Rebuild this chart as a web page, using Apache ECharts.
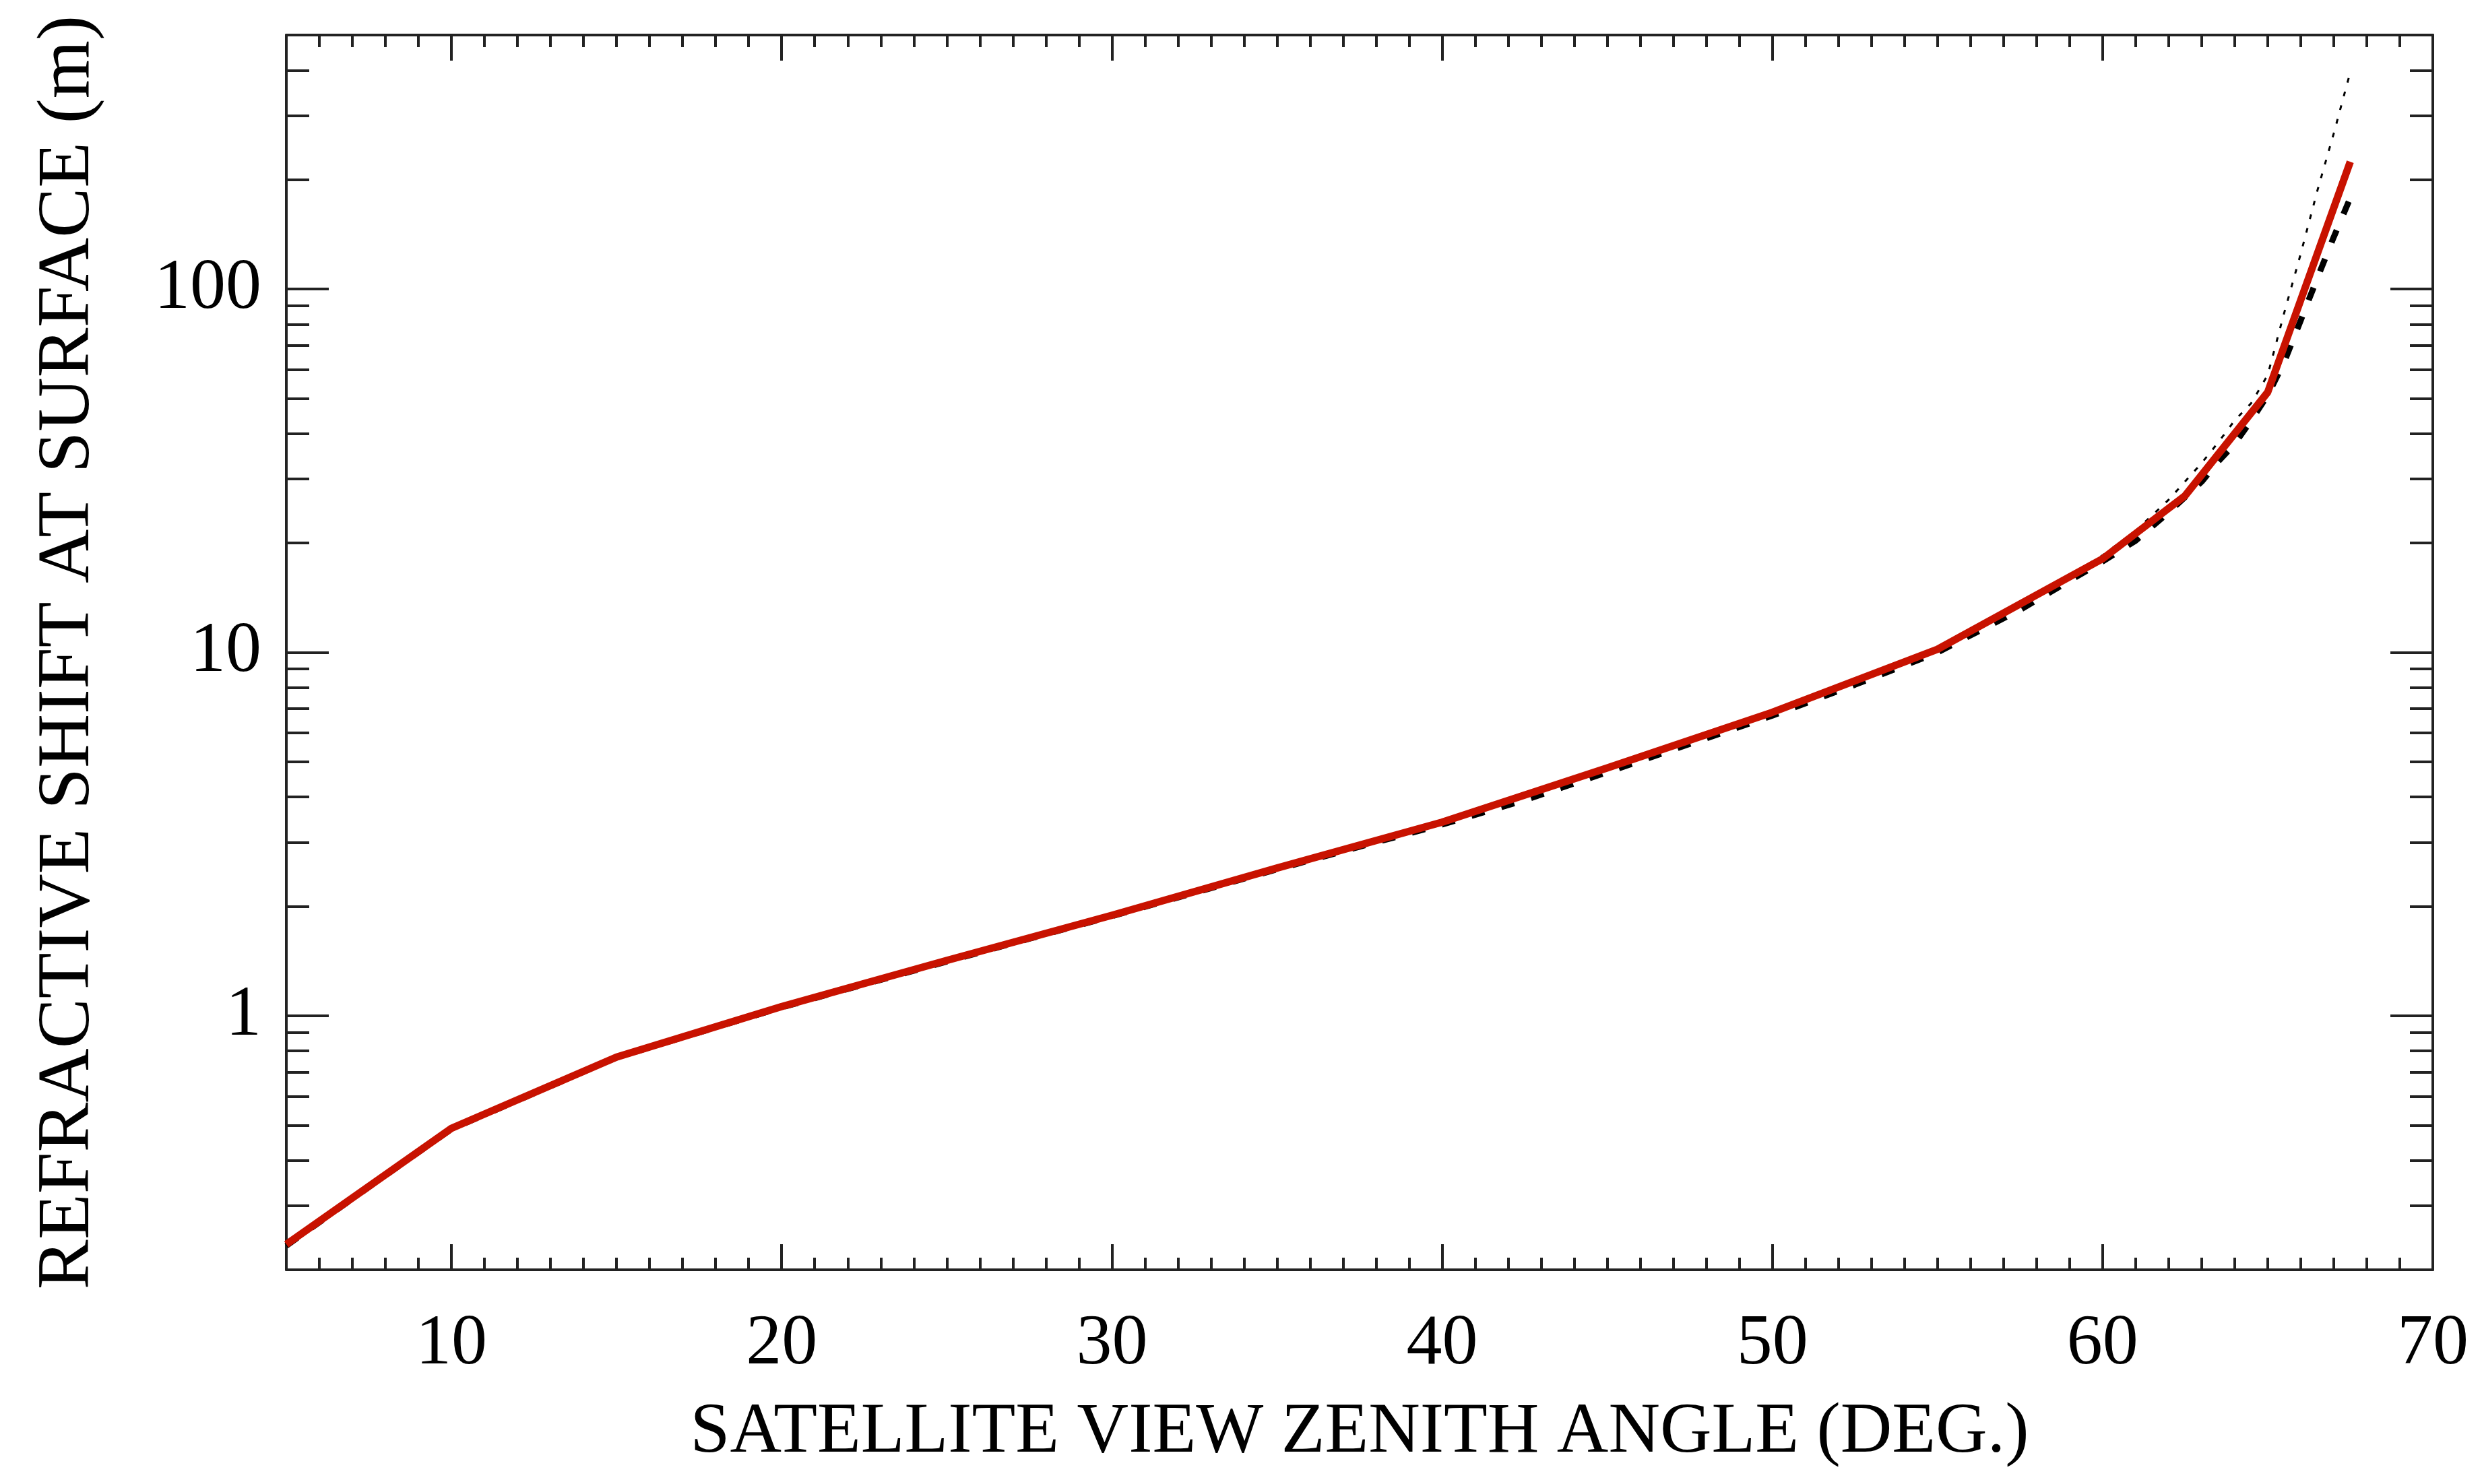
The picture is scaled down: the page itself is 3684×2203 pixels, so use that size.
<!DOCTYPE html>
<html><head><meta charset="utf-8">
<script src="https://cdn.jsdelivr.net/npm/echarts@6/dist/echarts.min.js"></script>
<style>html,body{margin:0;padding:0;background:#fff}#c{width:3684px;height:2203px}</style>
</head><body><div id="c"></div>
<script>
// ---- data ----
const redAngle = [5, 10, 15, 20, 25, 30, 35, 40, 45, 50, 55, 60, 62.5, 65, 67.5];
const redShift = [0.235, 0.49, 0.77, 1.06, 1.42, 1.89, 2.55, 3.41, 4.81, 6.84, 10.2, 18.1, 27, 52, 224];

const blackAngle = [5, 7.5, 10, 12.5, 15, 17.5, 20, 22.5, 25, 27.5, 30, 32.5, 35, 37.5, 40, 42.5, 45, 47.5, 50, 52.5, 55, 57.5, 60, 61, 62, 63, 63.5, 64, 64.5, 65, 65.5, 66, 66.5, 67, 67.5];
const dottedShift = [0.235, 0.34, 0.49, 0.617, 0.772, 0.91, 1.07, 1.24, 1.44, 1.66, 1.91, 2.21, 2.57, 2.97, 3.43, 4.05, 4.82, 5.75, 6.88, 8.35, 10.3, 13.4, 18.5, 21.6, 26.3, 33.2, 37.8, 43.5, 48.5, 58, 86, 125, 186, 268, 395];
const dashedShift = [0.233, 0.338, 0.488, 0.612, 0.768, 0.9, 1.055, 1.22, 1.41, 1.63, 1.88, 2.18, 2.53, 2.92, 3.36, 3.92, 4.68, 5.6, 6.7, 8.15, 10.0, 13.1, 17.8, 20.3, 24.3, 29.5, 33.5, 37.5, 43.5, 51, 63, 82, 107, 139, 178];

const xTickLabels = [10, 20, 30, 40, 50, 60, 70];
const yTickLabels = [1, 10, 100];
const xTitle = 'SATELLITE VIEW ZENITH ANGLE (DEG.)';
const yTitle = 'REFRACTIVE SHIFT AT SURFACE (m)';

// ---- axis settings ----
const X_MIN = 5, X_MAX = 70, Y_MIN = 0.2, Y_MAX = 500;
const xMinor = [];
for (let v = X_MIN + 1; v < X_MAX; v++) if (xTickLabels.indexOf(v) < 0) xMinor.push(v);
const yMinor = [];
[0.1, 1, 10, 100].forEach(d => {
  for (let k = 2; k <= 9; k++) {
    const v = +(k * d).toPrecision(6);
    if (v > Y_MIN && v < Y_MAX) yMinor.push(v);
  }
});

const C = '#222';
const FONT = '"Liberation Serif", "DejaVu Serif", serif';
const LW = 4;

function zip(a, b) { return a.map((v, i) => [v, b[i]]); }

function xAxis(pos, ticks, len, main) {
  return {
    type: 'value', position: pos, min: X_MIN, max: X_MAX,
    axisLine: { show: main, onZero: false, lineStyle: { color: C, width: LW } },
    axisTick: { show: true, inside: true, length: len, customValues: ticks, lineStyle: { color: C, width: LW } },
    axisLabel: (main && pos === 'bottom') ? { show: true, customValues: xTickLabels, margin: 58, fontSize: 106, fontFamily: FONT, color: '#000' } : { show: false },
    splitLine: { show: false },
    name: (main && pos === 'bottom') ? xTitle : '',
    nameLocation: 'middle', nameGap: 189,
    nameTextStyle: { fontSize: 106, fontFamily: FONT, color: '#000' }
  };
}
function yAxis(pos, ticks, len, main) {
  return {
    type: 'log', logBase: 10, position: pos, min: Y_MIN, max: Y_MAX,
    axisLine: { show: main, onZero: false, lineStyle: { color: C, width: LW } },
    axisTick: { show: true, inside: true, length: len, customValues: ticks, lineStyle: { color: C, width: LW } },
    axisLabel: (main && pos === 'left') ? { show: true, customValues: yTickLabels, margin: 37, fontSize: 106, fontFamily: FONT, color: '#000' } : { show: false },
    splitLine: { show: false }, minorTick: { show: false },
    name: (main && pos === 'left') ? yTitle : '',
    nameLocation: 'middle', nameGap: 268,
    nameTextStyle: { fontSize: 111, fontFamily: FONT, color: '#000' }
  };
}

const chart = echarts.init(document.getElementById('c'), null, { renderer: 'canvas' });
chart.setOption({
  animation: false,
  backgroundColor: '#fff',
  grid: { left: 425, right: 73, top: 52, bottom: 318, containLabel: false, outerBoundsMode: 'none' },
  xAxis: [
    xAxis('bottom', xTickLabels, 38, true),
    xAxis('bottom', xMinor, 18, false),
    xAxis('top', xTickLabels, 38, true),
    xAxis('top', xMinor, 18, false)
  ],
  yAxis: [
    yAxis('left', yTickLabels, 63, true),
    yAxis('left', yMinor, 34, false),
    yAxis('right', yTickLabels, 63, true),
    yAxis('right', yMinor, 34, false)
  ],
  series: [
    { type: 'line', xAxisIndex: 0, yAxisIndex: 0, data: zip(blackAngle, dashedShift), symbol: 'none', silent: true,
      lineStyle: { color: '#000', width: 9, type: [20, 26], cap: 'butt' } },
    { type: 'line', xAxisIndex: 0, yAxisIndex: 0, data: zip(blackAngle, dottedShift), symbol: 'none', silent: true,
      lineStyle: { color: '#000', width: 3, type: [7, 14], cap: 'butt' } },
    { type: 'line', xAxisIndex: 0, yAxisIndex: 0, data: zip(redAngle, redShift), symbol: 'none', silent: true,
      lineStyle: { color: '#c81200', width: 11, join: 'round' } }
  ]
});
</script>
</body></html>
